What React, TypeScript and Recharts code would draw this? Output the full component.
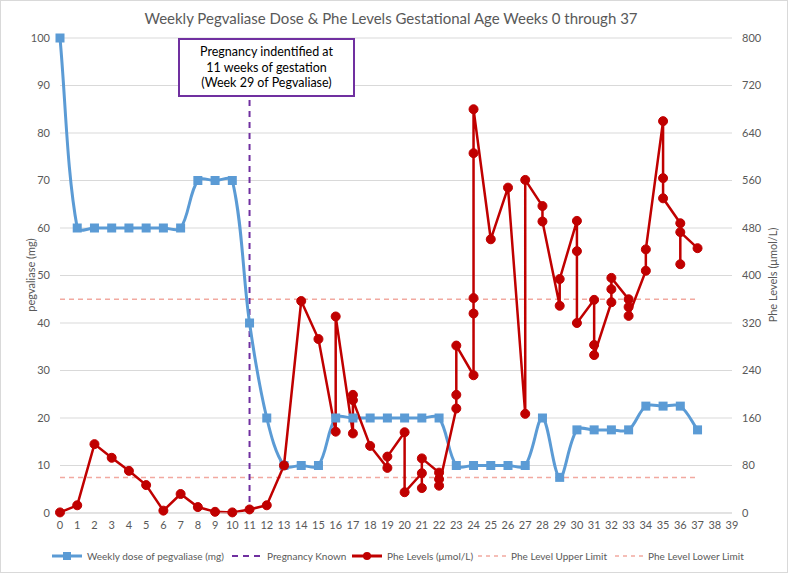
import React from 'react';
import {
  ComposedChart,
  Line,
  XAxis,
  YAxis,
  CartesianGrid,
  ReferenceLine,
} from 'recharts';

// dose (mg) per gestational week
const doseWeeks = [0, 1, 2, 3, 4, 5, 6, 7, 8, 9, 10, 11, 12, 13, 14, 15, 16, 17, 18, 19, 20, 21, 22, 23, 24, 25, 26, 27, 28, 29, 30, 31, 32, 33, 34, 35, 36, 37];
const doseMg = [100, 60, 60, 60, 60, 60, 60, 60, 70, 70, 70, 40, 20, 10, 10, 10, 20, 20, 20, 20, 20, 20, 20, 10, 10, 10, 10, 10, 20, 7.5, 17.5, 17.5, 17.5, 17.5, 22.5, 22.5, 22.5, 17.5];

// Phe levels (umol/L), several draws in some weeks
const pheWeeks = [0, 1, 2, 3, 4, 5, 6, 7, 8, 9, 10, 11, 12, 13, 14, 15, 16, 16, 17, 17, 17, 18, 19, 19, 20, 20, 21, 21, 21, 22, 22, 22, 23, 23, 23, 24, 24, 24, 24, 24, 25, 26, 27, 27, 28, 28, 29, 29, 30, 30, 30, 31, 31, 31, 32, 32, 32, 33, 33, 33, 34, 34, 35, 35, 35, 36, 36, 36, 37];
const pheValues = [1, 13, 116, 93, 71, 47, 4, 32, 10, 2, 1, 6, 13, 80, 357, 293, 137, 331, 134, 199, 190, 113, 76, 95, 136, 35, 67, 42, 92, 68, 57, 46, 176, 199, 282, 232, 336, 362, 606, 680, 461, 548, 167, 561, 517, 491, 349, 394, 492, 441, 320, 359, 283, 266, 355, 377, 396, 360, 347, 332, 408, 444, 660, 564, 530, 488, 419, 473, 446];

const limitWeeks = [0, 37];
const upperLimit = 360;
const lowerLimit = 60;
const pregnancyWeek = 11;

const xTicks = Array.from({ length: 40 }, (_, i) => i);
const leftTicks = [0, 10, 20, 30, 40, 50, 60, 70, 80, 90, 100];
const rightTicks = [0, 80, 160, 240, 320, 400, 480, 560, 640, 720, 800];

const doseData = doseWeeks.map((w, i) => ({ week: w, dose: doseMg[i] }));
const pheData = pheWeeks.map((w, i) => ({ week: w, phe: pheValues[i] }));
const upperData = limitWeeks.map((w) => ({ week: w, lim: upperLimit }));
const lowerData = limitWeeks.map((w) => ({ week: w, lim: lowerLimit }));

const FONT = 'Lato, "Open Sans", sans-serif';
const GREY = '#595959';
const BLUE = '#5B9BD5';
const RED = '#C00000';
const PURPLE = '#7030A0';
const PINK = '#F2A9A0';

// Excel style smoothed line: bezier tangents weighted by segment length
const excelSmooth = (context: any) => {
  let pts: number[][] = [];
  const dist = (a: number[], b: number[]) => Math.hypot(b[0] - a[0], b[1] - a[1]);
  return {
    areaStart() {},
    areaEnd() {},
    lineStart() {
      pts = [];
    },
    point(x: number, y: number) {
      pts.push([+x, +y]);
    },
    lineEnd() {
      if (!pts.length) return;
      context.moveTo(pts[0][0], pts[0][1]);
      for (let i = 0; i < pts.length - 1; i++) {
        const p0 = pts[i - 1] || pts[i];
        const p1 = pts[i];
        const p2 = pts[i + 1];
        const p3 = pts[i + 2] || p2;
        const d01 = dist(p0, p1);
        const d12 = dist(p1, p2);
        const d23 = dist(p2, p3);
        const f1 = d01 + d12 > 0 ? d12 / (d01 + d12) / 3 : 0;
        const f2 = d12 + d23 > 0 ? d12 / (d12 + d23) / 3 : 0;
        context.bezierCurveTo(
          p1[0] + (p2[0] - p0[0]) * f1,
          p1[1] + (p2[1] - p0[1]) * f1,
          p2[0] - (p3[0] - p1[0]) * f2,
          p2[1] - (p3[1] - p1[1]) * f2,
          p2[0],
          p2[1]
        );
      }
    },
  };
};

const SquareDot = (props: any) => {
  const { cx, cy, index } = props;
  if (cx == null || cy == null) return null;
  return <rect key={`sq-${index}`} x={cx - 4.5} y={cy - 4.5} width={9} height={9} fill={BLUE} />;
};

const tickStyle = { fontSize: 11, fill: GREY, fontFamily: FONT };

const LegendItem = ({ left, kind, label }: { left: number; kind: string; label: string }) => {
  let icon: React.ReactNode = null;
  if (kind === 'dose') {
    icon = (
      <svg width={30} height={10}>
        <line x1={0} y1={5} x2={30} y2={5} stroke={BLUE} strokeWidth={3} />
        <rect x={11} y={1} width={8} height={8} fill={BLUE} />
      </svg>
    );
  } else if (kind === 'preg') {
    icon = (
      <svg width={30} height={10}>
        <line x1={0} y1={5} x2={30} y2={5} stroke={PURPLE} strokeWidth={2} strokeDasharray="6 5" />
      </svg>
    );
  } else if (kind === 'phe') {
    icon = (
      <svg width={30} height={10}>
        <line x1={0} y1={5} x2={30} y2={5} stroke={RED} strokeWidth={3} />
        <circle cx={15} cy={5} r={4} fill={RED} />
      </svg>
    );
  } else {
    icon = (
      <svg width={28} height={10}>
        <line x1={0} y1={5} x2={28} y2={5} stroke={PINK} strokeWidth={1.5} strokeDasharray="4 4" />
      </svg>
    );
  }
  return (
    <div style={{ position: 'absolute', left, top: 548, height: 16, display: 'flex', alignItems: 'center', gap: 5, whiteSpace: 'nowrap' }}>
      {icon}
      <span style={{ fontSize: 10, color: GREY, fontFamily: FONT }}>{label}</span>
    </div>
  );
};

export default function App() {
  return (
    <div style={{ position: 'absolute', left: 0, top: 0, width: 788, height: 573, background: '#fff', fontFamily: FONT }}>
      <div
        style={{
          position: 'absolute',
          top: 9,
          left: 0,
          width: 782,
          textAlign: 'center',
          fontSize: 15,
          color: GREY,
        }}
      >
        Weekly Pegvaliase Dose &amp; Phe Levels Gestational Age Weeks 0 through 37
      </div>
      <div style={{ position: 'absolute', left: 0, top: 0 }}>
        <ComposedChart width={788} height={573} margin={{ top: 38, right: 16, bottom: 30, left: 20 }}>
          <CartesianGrid vertical={false} stroke="#D9D9D9" yAxisId="left" />
          <XAxis
            dataKey="week"
            type="number"
            domain={[0, 39]}
            ticks={xTicks}
            interval={0}
            allowDuplicatedCategory
            tick={tickStyle}
            tickLine={false}
            axisLine={{ stroke: '#D9D9D9' }}
            height={30}
          />
          <YAxis
            yAxisId="left"
            domain={[0, 100]}
            ticks={leftTicks}
            tick={tickStyle}
            tickLine={false}
            axisLine={false}
            tickMargin={4}
            width={40}
          />
          <YAxis
            yAxisId="right"
            orientation="right"
            domain={[0, 800]}
            ticks={rightTicks}
            tick={tickStyle}
            tickLine={false}
            axisLine={false}
            tickMargin={4}
            width={40}
          />
          <Line
            yAxisId="right"
            data={upperData}
            dataKey="lim"
            stroke={PINK}
            strokeWidth={1.5}
            strokeDasharray="5 4"
            dot={false}
            activeDot={false}
            isAnimationActive={false}
          />
          <Line
            yAxisId="right"
            data={lowerData}
            dataKey="lim"
            stroke={PINK}
            strokeWidth={1.5}
            strokeDasharray="5 4"
            dot={false}
            activeDot={false}
            isAnimationActive={false}
          />
          <ReferenceLine yAxisId="left" x={pregnancyWeek} stroke={PURPLE} strokeWidth={2} strokeDasharray="6 5" />
          <Line
            yAxisId="left"
            data={doseData}
            dataKey="dose"
            type={excelSmooth as any}
            stroke={BLUE}
            strokeWidth={3}
            dot={<SquareDot />}
            activeDot={false}
            isAnimationActive={false}
          />
          <Line
            yAxisId="right"
            data={pheData}
            dataKey="phe"
            type="linear"
            stroke={RED}
            strokeWidth={2.5}
            dot={{ r: 4.5, fill: RED, stroke: RED, strokeWidth: 1 }}
            activeDot={false}
            isAnimationActive={false}
          />
        </ComposedChart>
      </div>

      {/* axis titles */}
      <div style={{ position: 'absolute', left: 30, top: 275, transform: 'translate(-50%, -50%) rotate(-90deg)', fontSize: 11, color: GREY, whiteSpace: 'nowrap' }}>
        pegvaliase (mg)
      </div>
      <div style={{ position: 'absolute', left: 772, top: 275, transform: 'translate(-50%, -50%) rotate(-90deg)', fontSize: 11, color: GREY, whiteSpace: 'nowrap' }}>
        Phe Levels (μmol/L)
      </div>

      {/* annotation box */}
      <div
        style={{
          position: 'absolute',
          left: 178,
          top: 38,
          width: 177,
          height: 59,
          boxSizing: 'border-box',
          border: `2.5px solid ${PURPLE}`,
          background: '#fff',
          display: 'flex',
          flexDirection: 'column',
          alignItems: 'center',
          justifyContent: 'center',
          fontSize: 12.5,
          lineHeight: '15.5px',
          color: '#000',
          textAlign: 'center',
        }}
      >
        <div>Pregnancy indentified at</div>
        <div>11 weeks of gestation</div>
        <div>(Week 29 of Pegvaliase)</div>
      </div>

      <LegendItem left={52} kind="dose" label="Weekly dose of pegvaliase (mg)" />
      <LegendItem left={232} kind="preg" label="Pregnancy Known" />
      <LegendItem left={352} kind="phe" label="Phe Levels (μmol/L)" />
      <LegendItem left={478} kind="lim" label="Phe Level Upper Limit" />
      <LegendItem left={615} kind="lim" label="Phe Level Lower Limit" />

      <div style={{ position: 'absolute', left: 0, top: 0, width: 788, height: 573, boxSizing: 'border-box', border: '1px solid #D9D9D9', pointerEvents: 'none' }} />
    </div>
  );
}
